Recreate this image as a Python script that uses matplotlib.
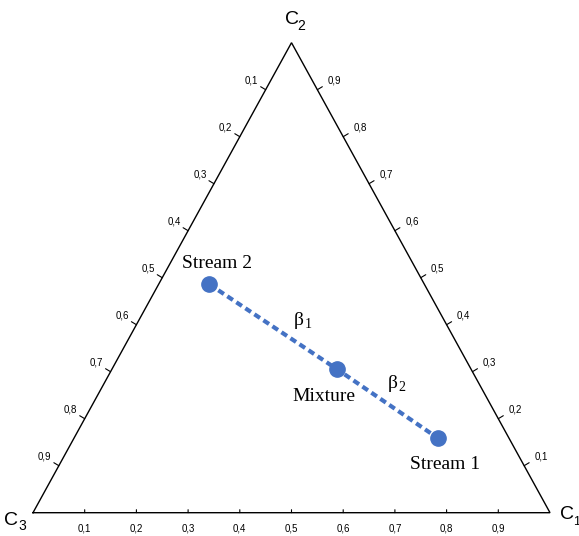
import numpy as np
import matplotlib.pyplot as plt

# compositions (c1, c2, c3)
names = ['Stream 2', 'Mixture', 'Stream 1']
c1 = [0.098, 0.436, 0.705]
c2 = [0.486, 0.305, 0.158]
c3 = [0.416, 0.259, 0.137]
tick_vals = [0.1, 0.2, 0.3, 0.4, 0.5, 0.6, 0.7, 0.8, 0.9]
tick_labels = ['0,1', '0,2', '0,3', '0,4', '0,5', '0,6', '0,7', '0,8', '0,9']
blue = '#4472c4'


def to_xy(a, b):
    a = np.asarray(a, dtype=float)
    b = np.asarray(b, dtype=float)
    return a + b / 2, b


def sub_label(ax, xy, main, sub, main_off, sub_off, family, size, sub_size):
    # main glyph and its subscript as two texts
    ax.annotate(main, xy=xy, xytext=main_off, textcoords='offset pixels',
                ha='center', va='center', family=family, fontsize=size)
    ax.annotate(sub, xy=xy, xytext=sub_off, textcoords='offset pixels',
                ha='left', va='center', family=family, fontsize=sub_size)


fig = plt.figure(figsize=(5.79, 5.36), dpi=100)
ax = fig.add_axes([0, 0, 1, 1])
ax.set_xlim(-33 / 517, 1 + 29 / 517)
ax.set_ylim(-23.3 / 470, 512.7 / 470)
ax.axis('off')

# triangle frame
tx, ty = to_xy([0, 1, 0, 0], [0, 0, 1, 0])
ax.plot(tx, ty, color='black', lw=1.0, solid_joinstyle='miter')

tfont = dict(family='Liberation Sans', fontsize=7, color='black')
for v, lab in zip(tick_vals, tick_labels):
    # bottom axis: c1
    x, y = to_xy(v, 0)
    ax.annotate('', xy=(x, y), xytext=(0, 3), textcoords='offset pixels',
                arrowprops=dict(arrowstyle='-', lw=0.8, shrinkA=0, shrinkB=0))
    ax.annotate(lab, xy=(x, y), xytext=(0, -16), textcoords='offset pixels',
                ha='center', va='center', **tfont)
    # left axis: c3
    x, y = to_xy(0, 1 - v)
    ax.annotate('', xy=(x, y), xytext=(-5, 3), textcoords='offset pixels',
                arrowprops=dict(arrowstyle='-', lw=0.8, shrinkA=0, shrinkB=0))
    ax.annotate(lab, xy=(x, y), xytext=(-14, 9), textcoords='offset pixels',
                ha='center', va='center', **tfont)
    # right axis: c2
    x, y = to_xy(1 - v, v)
    ax.annotate('', xy=(x, y), xytext=(5, 3), textcoords='offset pixels',
                arrowprops=dict(arrowstyle='-', lw=0.8, shrinkA=0, shrinkB=0))
    ax.annotate(lab, xy=(x, y), xytext=(17, 9), textcoords='offset pixels',
                ha='center', va='center', **tfont)

# vertex labels
sub_label(ax, to_xy(0, 1), 'C', '2', (0, 23), (6, 17), 'Liberation Sans', 14, 10)
sub_label(ax, to_xy(0, 0), 'C', '3', (-22, -8), (-15, -13), 'Liberation Sans', 14, 10)
sub_label(ax, to_xy(1, 0), 'C', '1', (17, -2), (23, -9), 'Liberation Sans', 14, 9)

# mixing line
px, py = to_xy(c1, c2)
ax.plot(px, py, color=blue, lw=3, ls=(0, (1.6, 1.0)), zorder=2)
ax.plot(px, py, 'o', color=blue, ms=11, zorder=3)

sfont = dict(family='Liberation Serif', fontsize=14, ha='center', va='center')
offsets = [(8, 21), (-13, -27), (7, -26)]
for n, x, y, off in zip(names, px, py, offsets):
    ax.annotate(n, xy=(x, y), xytext=off, textcoords='offset pixels', **sfont)

# beta labels at segment midpoints
m1 = ((px[0] + px[1]) / 2, (py[0] + py[1]) / 2)
m2 = ((px[1] + px[2]) / 2, (py[1] + py[2]) / 2)
sub_label(ax, m1, '\u03b2', '1', (25, 6), (31, 2), 'Liberation Serif', 14, 10)
sub_label(ax, m2, '\u03b2', '2', (5, 20), (11, 16), 'Liberation Serif', 14, 10)

fig.savefig('out.png', dpi=100)
